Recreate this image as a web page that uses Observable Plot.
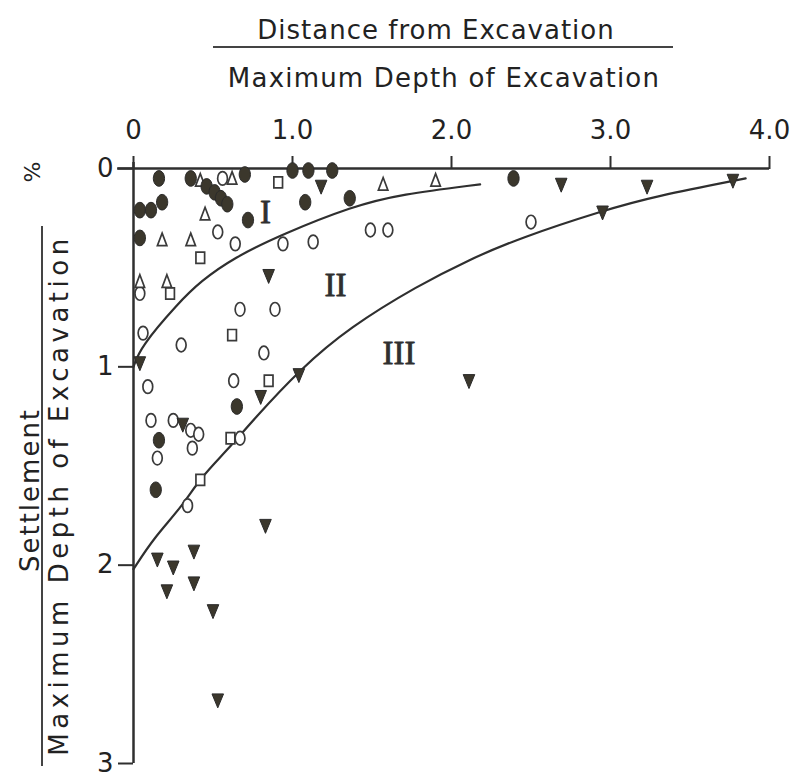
<!DOCTYPE html>
<html>
<head>
<meta charset="utf-8">
<script src="https://cdn.jsdelivr.net/npm/d3@7"></script>
<script src="https://cdn.jsdelivr.net/npm/@observablehq/plot@0.6"></script>
<style>
  html, body { margin: 0; padding: 0; background: #fff; }
  #wrap { position: relative; width: 798px; height: 779px; overflow: hidden; }
  .lbl { position: absolute; font-family: "DejaVu Sans", sans-serif; color: #222; white-space: nowrap; line-height: 1; transform: translate(-50%, -50%); }
  .rot { transform: translate(-50%, -50%) rotate(-90deg); }
  .bar { position: absolute; background: #444; }
</style>
</head>
<body>
<div id="wrap">
  <div class="lbl" style="left:436px; top:30px; font-size:26px; letter-spacing:1px;">Distance from Excavation</div>
  <div class="bar" style="left:213px; top:46px; width:460px; height:2px;"></div>
  <div class="lbl" style="left:444px; top:78px; font-size:26px; letter-spacing:1.2px;">Maximum Depth of Excavation</div>
  <div class="lbl rot" style="left:30px; top:490px; font-size:26px; letter-spacing:2px;">Settlement</div>
  <div class="bar" style="left:41px; top:226px; width:2px; height:540px;"></div>
  <div class="lbl rot" style="left:59px; top:495px; font-size:26px; letter-spacing:4.5px;">Maximum Depth of Excavation</div>
  <div class="lbl rot" style="left:33px; top:172px; font-size:22px;">%</div>
</div>
<script>
// ---- data ----
const xTicks = [0, 1, 2, 3, 4];
const yTicks = [0, 1, 2, 3];

const boundaryI_II = [
  [0, 1.0], [0.044, 0.90], [0.28, 0.68], [0.42, 0.57], [0.63, 0.45],
  [0.94, 0.33], [1.38, 0.19], [1.68, 0.13], [2.18, 0.08]
];
const boundaryII_III = [
  [0, 2.02], [0.13, 1.86], [0.30, 1.71], [0.42, 1.56], [0.59, 1.42],
  [0.75, 1.27], [1.05, 1.01], [1.36, 0.80], [1.79, 0.59], [2.11, 0.46],
  [2.43, 0.35], [2.96, 0.21], [3.28, 0.14], [3.85, 0.05]
];

const filledCircles = [
  [0.16,0.05],[0.18,0.17],[0.04,0.21],[0.11,0.21],[0.36,0.05],[0.46,0.09],
  [0.51,0.12],[0.55,0.15],[0.59,0.18],[0.70,0.03],[0.72,0.26],[1.00,0.01],
  [1.10,0.01],[1.25,0.01],[1.08,0.17],[1.36,0.15],[2.39,0.05],[0.04,0.35],
  [0.65,1.20],[0.16,1.37],[0.14,1.62]
];
const openCircles = [
  [0.56,0.05],[0.53,0.32],[0.64,0.38],[0.94,0.38],[1.13,0.37],[1.49,0.31],
  [1.60,0.31],[2.50,0.27],[0.04,0.63],[0.06,0.83],[0.30,0.89],[0.67,0.71],
  [0.89,0.71],[0.82,0.93],[0.09,1.10],[0.63,1.07],[0.11,1.27],[0.25,1.27],
  [0.36,1.32],[0.41,1.34],[0.37,1.41],[0.15,1.46],[0.34,1.70],[0.67,1.36]
];
const openTriangles = [
  [0.42,0.06],[0.62,0.05],[0.45,0.23],[1.57,0.08],[1.90,0.06],[0.18,0.36],
  [0.36,0.36],[0.04,0.57],[0.21,0.57]
];
const openSquares = [
  [0.91,0.07],[0.42,0.45],[0.23,0.63],[0.62,0.84],[0.85,1.07],[0.61,1.36],[0.42,1.57]
];
const filledTriangles = [
  [1.18,0.09],[2.69,0.08],[3.23,0.09],[3.77,0.06],[2.95,0.22],[0.85,0.54],
  [0.04,0.98],[1.04,1.04],[0.80,1.15],[2.11,1.07],[0.31,1.29],[0.83,1.80],
  [0.15,1.97],[0.25,2.01],[0.38,1.93],[0.38,2.09],[0.21,2.13],[0.50,2.23],[0.53,2.68]
];
const zoneLabels = [
  {x: 0.83, y: 0.22, text: "I"},
  {x: 1.27, y: 0.59, text: "II"},
  {x: 1.67, y: 0.93, text: "III"}
];

// ---- custom symbols ----
const ellipseSym = {draw(ctx, size) {
  const r = Math.sqrt(size / Math.PI), rx = r * 0.72, ry = r, k = 0.5523;
  ctx.moveTo(0, -ry);
  ctx.bezierCurveTo(k*rx, -ry, rx, -k*ry, rx, 0);
  ctx.bezierCurveTo(rx, k*ry, k*rx, ry, 0, ry);
  ctx.bezierCurveTo(-k*rx, ry, -rx, k*ry, -rx, 0);
  ctx.bezierCurveTo(-rx, -k*ry, -k*rx, -ry, 0, -ry);
  ctx.closePath();
}};
const triDownSym = {draw(ctx, size) {
  const r = Math.sqrt(size / Math.PI);
  ctx.moveTo(-r*0.85, -r*0.9); ctx.lineTo(r*0.85, -r*0.9); ctx.lineTo(0, r*1.15); ctx.closePath();
}};
const triUpSym = {draw(ctx, size) {
  const r = Math.sqrt(size / Math.PI);
  ctx.moveTo(0, -r); ctx.lineTo(r*0.7, r*0.85); ctx.lineTo(-r*0.7, r*0.85); ctx.closePath();
}};
const rectSym = {draw(ctx, size) {
  const r = Math.sqrt(size / Math.PI);
  ctx.rect(-r*0.7, -r*0.9, r*1.4, r*1.8);
}};

const ink = "#2f2f2f";
const openStyle = {fill: "white", stroke: "#3a3a3a", strokeWidth: 1.7};
const fillStyle = {fill: "#3b372c", stroke: "#2a2a2a", strokeWidth: 1};

const chart = Plot.plot({
  width: 798,
  height: 779,
  marginTop: 168,
  marginBottom: 16,
  marginLeft: 133,
  marginRight: 29,
  style: {fontFamily: "DejaVu Sans", color: "#222", background: "white"},
  x: {domain: [0, 4], axis: null},
  y: {domain: [0, 3], reverse: true, axis: null},
  marks: [
    Plot.ruleY([0], {x1: -0.1, x2: 4, stroke: ink, strokeWidth: 2.5}),
    Plot.ruleX([0], {y1: -0.03, y2: 3, stroke: ink, strokeWidth: 2.5}),
    Plot.axisX(xTicks, {anchor: "top", tickSize: 13, tickPadding: 17, strokeWidth: 2, stroke: ink,
      tickFormat: d => d === 0 ? "0" : d.toFixed(1), fontSize: 26, label: null}),
    Plot.axisY(yTicks, {anchor: "left", tickSize: 15, tickPadding: 5, strokeWidth: 2, stroke: ink,
      tickFormat: d => String(d), fontSize: 26, label: null}),
    Plot.line(boundaryI_II, {x: d => d[0], y: d => d[1], curve: "basis", stroke: ink, strokeWidth: 2.2}),
    Plot.line(boundaryII_III, {x: d => d[0], y: d => d[1], curve: "basis", stroke: ink, strokeWidth: 2.2}),
    Plot.dot(openCircles, {x: d => d[0], y: d => d[1], symbol: ellipseSym, r: 6.8, ...openStyle}),
    Plot.dot(openSquares, {x: d => d[0], y: d => d[1], symbol: rectSym, r: 6.2, ...openStyle}),
    Plot.dot(openTriangles, {x: d => d[0], y: d => d[1], symbol: triUpSym, r: 6.8, ...openStyle}),
    Plot.dot(filledCircles, {x: d => d[0], y: d => d[1], symbol: ellipseSym, r: 7.8, ...fillStyle}),
    Plot.dot(filledTriangles, {x: d => d[0], y: d => d[1], symbol: triDownSym, r: 6.8, ...fillStyle}),
    Plot.text(zoneLabels, {x: "x", y: "y", text: "text", fontSize: 33, fontFamily: "Liberation Serif", fontWeight: "normal", fill: ink, stroke: ink, strokeWidth: 0.8})
  ]
});
chart.style.position = "absolute";
chart.style.left = "0px";
chart.style.top = "0px";
const wrap = document.getElementById("wrap");
wrap.insertBefore(chart, wrap.firstChild);
</script>
</body>
</html>
